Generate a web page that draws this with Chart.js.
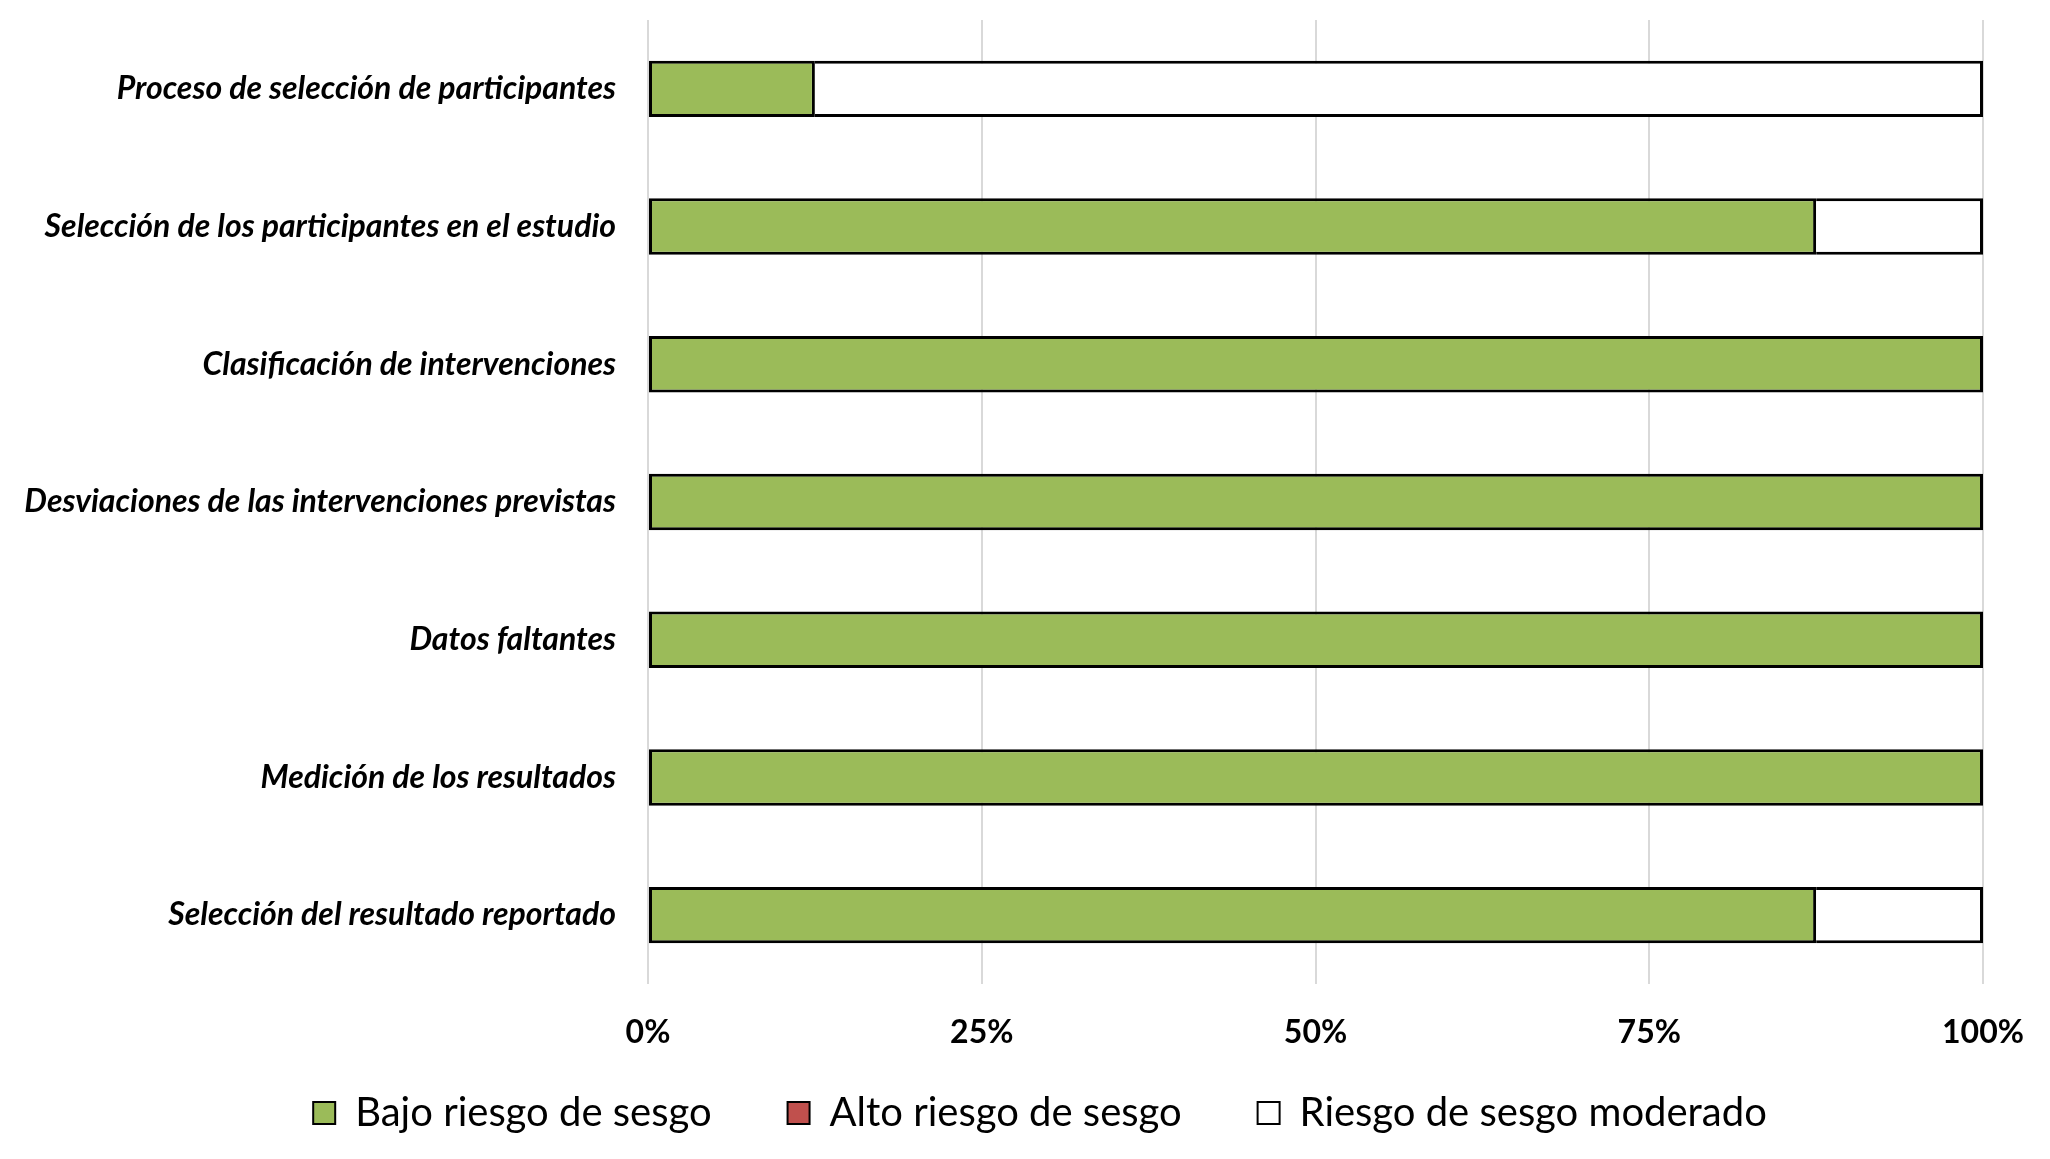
<!DOCTYPE html>
<html>
<head>
<meta charset="utf-8">
<script src="https://cdn.jsdelivr.net/npm/chart.js@4/dist/chart.umd.min.js"></script>
<style>
html,body{margin:0;padding:0;background:#fff;}
#wrap{width:2050px;height:1159px;}
</style>
</head>
<body>
<div id="wrap"><canvas id="c" width="2050" height="1159"></canvas></div>
<script>
const categories = [
  "Proceso de selección de participantes",
  "Selección de los participantes en el estudio",
  "Clasificación de intervenciones",
  "Desviaciones de las intervenciones previstas",
  "Datos faltantes",
  "Medición de los resultados",
  "Selección del resultado reportado"
];
const seriesNames = ["Bajo riesgo de sesgo", "Alto riesgo de sesgo", "Riesgo de sesgo moderado"];
const bajo = [12.5, 87.5, 100, 100, 100, 100, 87.5];
const alto = [0, 0, 0, 0, 0, 0, 0];
const moderado = [87.5, 12.5, 0, 0, 0, 0, 12.5];
const tickStep = 25;

const LABEL_FONT = "Lato";
const BW = 3;
// outline each visible segment; skip the left edge where a segment touches a previous one
function segBorder(c) {
  if (!c.raw) return 0;
  const sets = c.chart.data.datasets;
  let prior = false;
  for (let k = 0; k < c.datasetIndex; k++) if (sets[k].data[c.dataIndex] > 0) prior = true;
  return {top: BW, right: BW, bottom: BW, left: prior ? 0 : BW};
}
const noClip = function () { return undefined; };

new Chart(document.getElementById('c'), {
  type: 'bar',
  data: {
    labels: categories,
    datasets: [
      {label: seriesNames[0], data: bajo, backgroundColor: '#9BBB59', borderColor: '#000', borderWidth: segBorder, borderSkipped: false},
      {label: seriesNames[1], data: alto, backgroundColor: '#C0504D', borderColor: '#000', borderWidth: segBorder, borderSkipped: false},
      {label: seriesNames[2], data: moderado, backgroundColor: '#FFFFFF', borderColor: '#000', borderWidth: segBorder, borderSkipped: false}
    ]
  },
  options: {
    indexAxis: 'y',
    responsive: false,
    devicePixelRatio: 1,
    animation: false,
    layout: {padding: {top: 20, right: 67, bottom: 16, left: 97}},
    datasets: {bar: {barPercentage: 1, categoryPercentage: 0.41}},
    plugins: {
      tooltip: {enabled: false},
      legend: {
        position: 'bottom',
        labels: {
          boxWidth: 22, boxHeight: 22, padding: 76,
          color: '#000',
          font: {family: LABEL_FONT, size: 40},
          generateLabels(chart) {
            return chart.data.datasets.map((ds, i) => ({
              text: ds.label, fillStyle: ds.backgroundColor, strokeStyle: '#000',
              lineWidth: 2, hidden: false, datasetIndex: i, fontColor: '#000'
            }));
          }
        }
      }
    },
    scales: {
      x: {
        stacked: true, min: 0, max: 100,
        afterFit(scale) {
          scale.height = 33;
          scale.paddingLeft = 0; scale.paddingRight = 0;
          scale._computeLabelArea = noClip;
        },
        grid: {color: '#d9d9d9', lineWidth: 2, drawTicks: false},
        border: {display: false},
        ticks: {
          stepSize: tickStep,
          padding: 29, color: '#000',
          font: {family: LABEL_FONT, size: 32, weight: 'bold'},
          callback: v => v + '%'
        }
      },
      y: {
        stacked: true,
        afterFit(scale) {
          scale.width = 551;
          scale.paddingTop = 0; scale.paddingBottom = 0;
          scale._computeLabelArea = noClip;
        },
        grid: {display: false, drawTicks: false},
        border: {display: false},
        ticks: {
          padding: 32, color: '#000',
          font: {family: LABEL_FONT, size: 32, weight: 'bold', style: 'italic'}
        }
      }
    }
  }
});
</script>
</body>
</html>
